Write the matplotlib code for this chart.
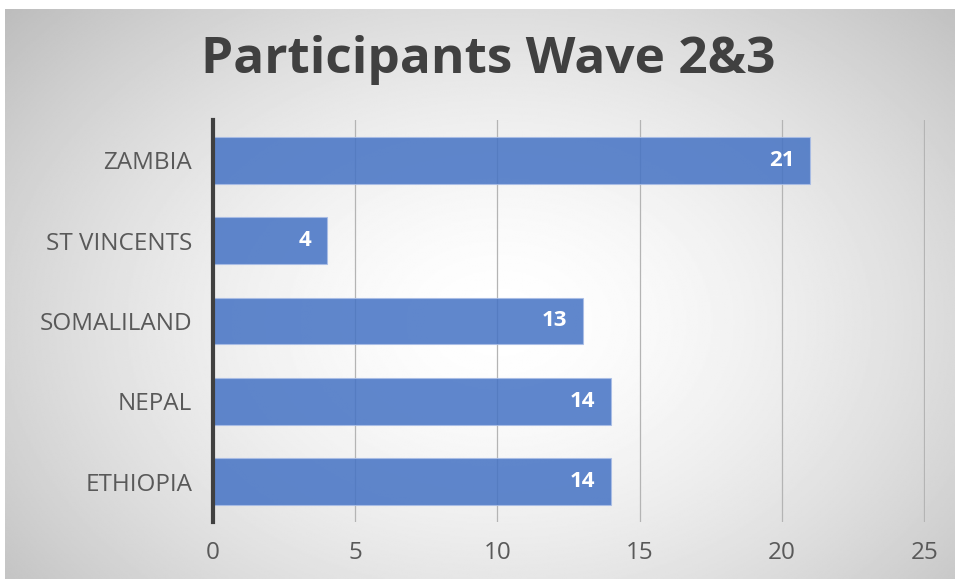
import numpy as np
import matplotlib.pyplot as plt

countries = ['ZAMBIA', 'ST VINCENTS', 'SOMALILAND', 'NEPAL', 'ETHIOPIA']
participants = [21, 4, 13, 14, 14]
xticks = [0, 5, 10, 15, 20, 25]

plt.rcParams['font.family'] = ['Open Sans', 'DejaVu Sans']

fig = plt.figure(figsize=(9.55, 5.79), dpi=100)

# radial grey-to-white backdrop behind the chart
bg = fig.add_axes([5 / 955, 0, 950 / 955, 1 - 9 / 579])
bg.set_axis_off()
yy, xx = np.mgrid[0:1:400j, 0:1:600j]
r = np.sqrt(((xx - 0.52) / 0.62) ** 2 + ((yy - 0.55) / 0.75) ** 2)
shade = 1.0 - 0.22 * np.clip(r, 0, 1.25) ** 1.6
bg.imshow(shade, cmap='gray', vmin=0, vmax=1, aspect='auto',
          extent=[0, 1, 0, 1], origin='upper')

ax = fig.add_axes([213 / 955, 1 - 522 / 579, 712 / 955, 402 / 579])
ax.patch.set_alpha(0)

y = np.arange(len(countries))
ax.barh(y, participants, height=0.58, color='#4472C4', alpha=0.85,
        edgecolor='#a9bde6', linewidth=0.8, zorder=3)
for yi, v in zip(y, participants):
    ax.text(v - 0.55, yi, str(v), ha='right', va='center', color='white',
            fontsize=16, fontweight='bold', zorder=4)

ax.set_xlim(0, 25.03)
ax.set_ylim(len(countries) - 0.5, -0.5)
ax.set_xticks(xticks)
ax.set_yticks(y)
ax.set_yticklabels(countries)
ax.grid(axis='x', color='#b4b4b4', linewidth=0.9, zorder=1)
ax.tick_params(axis='both', length=0, labelsize=17.5, colors='#595959')
ax.tick_params(axis='y', pad=15)
ax.tick_params(axis='x', pad=14)
for s in ['top', 'right', 'bottom']:
    ax.spines[s].set_visible(False)
ax.spines['left'].set_color('#404040')
ax.spines['left'].set_linewidth(3)
ax.spines['left'].set_zorder(5)

fig.text(488 / 955, 1 - 60 / 579, 'Participants Wave 2&3', ha='center',
         va='center', fontsize=37, fontweight='bold', color='#404040')

fig.savefig('out.png', dpi=100)
